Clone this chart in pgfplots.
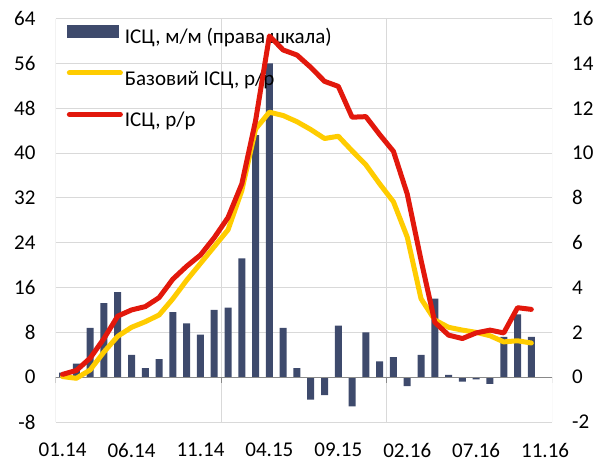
\documentclass[border=0pt]{standalone}
\usepackage{pgfplots}
\pgfplotsset{compat=1.18}
\usepackage{fontspec}
\setmainfont{Carlito}
\usetikzlibrary{calc}
\definecolor{barcol}{RGB}{62,74,108}
\definecolor{redl}{RGB}{226,24,12}
\definecolor{yell}{RGB}{255,204,0}
\definecolor{gridc}{RGB}{217,217,217}
\definecolor{axc}{RGB}{137,137,137}
\begin{document}
\begin{tikzpicture}
\pgfplotsset{
  common/.style={
    scale only axis, width=496.3bp, height=403.4bp,
    xmin=-0.5, xmax=35.5,
    major tick length=0pt,
    tick style={draw=none},
    axis line style={draw=none},
    font=\fontsize{21bp}{25bp}\selectfont,
  }
}
\begin{axis}[common, name=ax,
  ymin=-2, ymax=16,
  axis y line*=right, axis x line*=bottom,
  ytick={-2,0,2,4,6,8,10,12,14,16},
  yticklabels={-2,0,2,4,6,8,10,12,14,16},
  yticklabel style={anchor=west, inner sep=0pt, xshift=20bp},
  ymajorgrids, grid style={gridc, line width=1bp},
  xtick={0,5,10,15,20,25,30,35},
  xticklabels={01.14,06.14,11.14,04.15,09.15,02.16,07.16,11.16},
  xticklabel style={anchor=north, inner sep=0pt, yshift=-21bp},
  legend cell align=left,
  legend style={draw=none, fill=none, at={(0,1)}, anchor=north west,
    xshift=8bp, yshift=-4bp, row sep=25bp,
    font=\fontsize{21bp}{25bp}\selectfont,
    nodes={inner sep=0pt},
    /tikz/every odd column/.append style={column sep=2bp}},
]
\addlegendimage{legend image code/.code={\fill[barcol] (0bp,0bp) rectangle (51bp,12bp);}}
\addlegendentry{ІСЦ, м/м (права шкала)}
\addlegendimage{legend image code/.code={\draw[yell, line width=5bp, line cap=round] (2bp,6bp) -- (53bp,6bp);}}
\addlegendentry{Базовий ІСЦ, р/р}
\addlegendimage{legend image code/.code={\draw[redl, line width=5bp, line cap=round] (2bp,6bp) -- (53bp,6bp);}}
\addlegendentry{ІСЦ, р/р}
\draw[gridc, line width=1bp] (axis cs:-0.5,-2) -- (axis cs:-0.5,16);
\draw[gridc, line width=1bp] (axis cs:11.5,-2) -- (axis cs:11.5,16);
\draw[gridc, line width=1bp] (axis cs:23.5,-2) -- (axis cs:23.5,16);
\draw[gridc, line width=1bp] (axis cs:35.5,-2) -- (axis cs:35.5,16);
\addplot[ybar, bar width=7bp, fill=barcol, draw=none, forget plot] coordinates {
(0,0.2) (1,0.6) (2,2.2) (3,3.3) (4,3.8) (5,1.0) (6,0.4) (7,0.8) (8,2.9) (9,2.4)
(10,1.9) (11,3.0) (12,3.1) (13,5.3) (14,10.8) (15,14.0) (16,2.2) (17,0.4) (18,-1.0) (19,-0.8)
(20,2.3) (21,-1.3) (22,2.0) (23,0.7) (24,0.9) (25,-0.4) (26,1.0) (27,3.5) (28,0.1) (29,-0.2)
(30,-0.1) (31,-0.3) (32,1.8) (33,2.8) (34,1.8)
};
\draw[axc, line width=1bp] (axis cs:-0.5,0) -- (axis cs:35.5,0);
\draw[axc, line width=1bp] (axis cs:-0.5,0) -- (axis cs:-0.5,-0.27);
\draw[axc, line width=1bp] (axis cs:11.5,0) -- (axis cs:11.5,-0.27);
\draw[axc, line width=1bp] (axis cs:23.5,0) -- (axis cs:23.5,-0.27);
\draw[axc, line width=1bp] (axis cs:35.5,0) -- (axis cs:35.5,-0.27);
\end{axis}
\begin{axis}[common,
  ymin=-8, ymax=64,
  axis y line*=left, axis x line=none,
  ytick={-8,0,8,16,24,32,40,48,56,64},
  yticklabels={-8,0,8,16,24,32,40,48,56,64},
  yticklabel style={anchor=east, inner sep=0pt, xshift=-20bp},
]
\addplot[yell, line width=5bp, line join=round, line cap=round] coordinates {
(0,0.1) (1,-0.2) (2,1.3) (3,4.5) (4,7.3) (5,8.9) (6,9.9) (7,11.1) (8,14.0) (9,17.3)
(10,20.3) (11,23.3) (12,26.3) (13,33.3) (14,44.3) (15,47.3) (16,46.7) (17,45.6) (18,44.2) (19,42.6)
(20,43.0) (21,40.4) (22,37.9) (23,34.5) (24,31.3) (25,25.0) (26,14.0) (27,10.2) (28,8.9) (29,8.4)
(30,8.0) (31,7.4) (32,6.3) (33,6.5) (34,6.1)
};
\addplot[redl, line width=5bp, line join=round, line cap=round] coordinates {
(0,0.5) (1,1.2) (2,3.4) (3,6.9) (4,10.9) (5,12.0) (6,12.6) (7,14.2) (8,17.5) (9,19.8)
(10,21.8) (11,24.9) (12,28.5) (13,34.5) (14,45.8) (15,60.9) (16,58.4) (17,57.5) (18,55.3) (19,52.8)
(20,51.9) (21,46.4) (22,46.5) (23,43.3) (24,40.3) (25,32.7) (26,20.9) (27,9.8) (28,7.5) (29,6.9)
(30,7.9) (31,8.4) (32,7.9) (33,12.4) (34,12.1)
};
\end{axis}
\pgfresetboundingbox
\path[use as bounding box] ($(ax.south west)+(-55.7bp,-40bp)$) rectangle ($(ax.north east)+(57bp,18.6bp)$);
\end{tikzpicture}
\end{document}
